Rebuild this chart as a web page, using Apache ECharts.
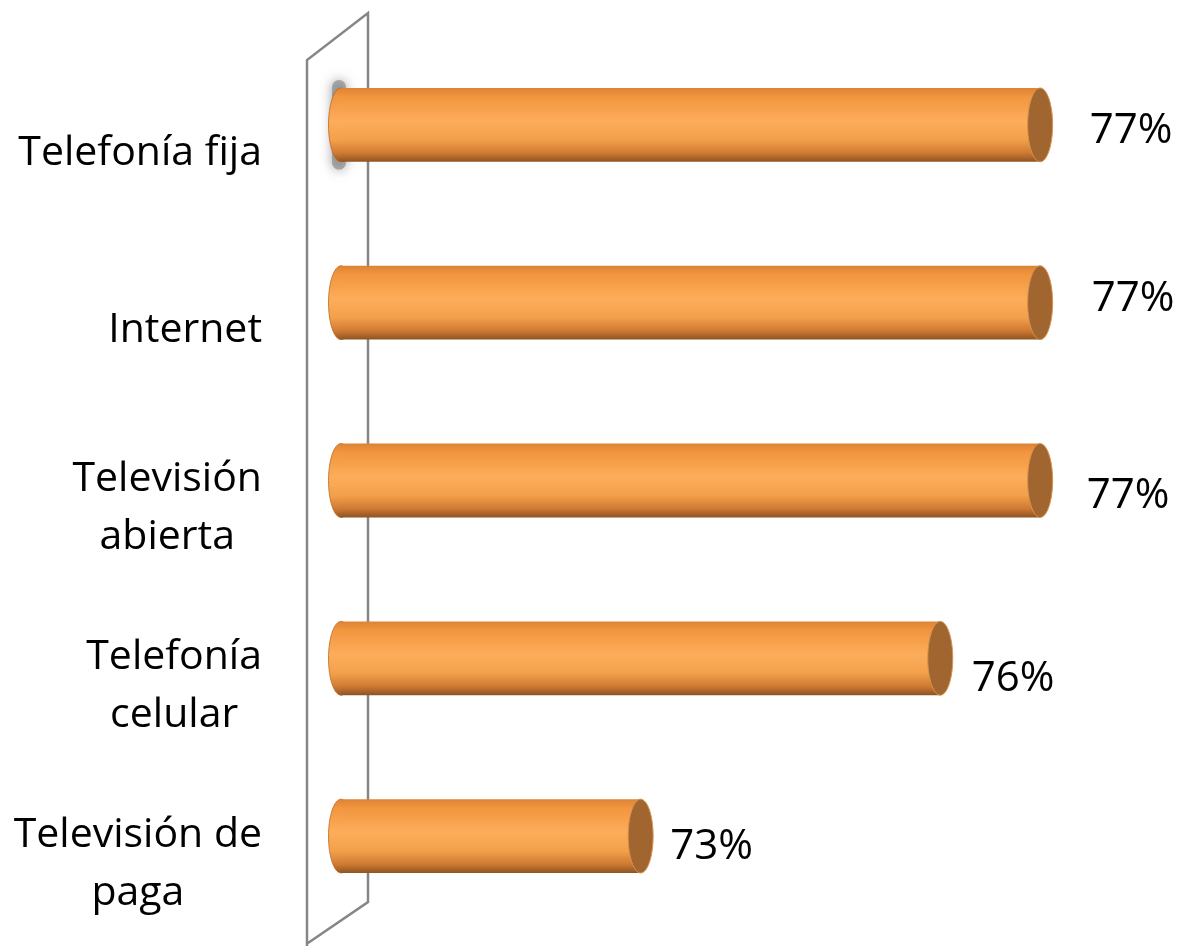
<!DOCTYPE html>
<html>
<head>
<meta charset="utf-8">
<script src="https://cdn.jsdelivr.net/npm/echarts@6/dist/echarts.min.js"></script>
<style>
  html, body { margin: 0; padding: 0; background: #fff; }
  #chart { width: 1178px; height: 946px; }
</style>
</head>
<body>
<div id="chart"></div>
<script>
// datos
var categories = ['Telefonía fija', 'Internet', 'Televisión\nabierta', 'Telefonía\ncelular', 'Televisión de\npaga'];
var values = [77, 77, 77, 76, 73];

var AXIS_MIN = 70;
var AXIS_MAX = 78;
var GRID_LEFT = 341;
var FONT = '"Open Sans", "Noto Sans", sans-serif';

// ajuste fino de cada etiqueta (dx, dy) como en el original
var labelNudge = [[37, 6], [39, -4], [34, 16], [19, 21], [17, 11]];

var bodyColor = {
    type: 'linear', x: 0, y: 0, x2: 0, y2: 1,
    colorStops: [
        { offset: 0, color: '#dc8334' },
        { offset: 0.12, color: '#f2953f' },
        { offset: 0.45, color: '#fdad5a' },
        { offset: 0.7, color: '#f3a04b' },
        { offset: 0.88, color: '#cf7a32' },
        { offset: 1, color: '#8e5322' }
    ]
};

function renderItem(params, api) {
    var idx = api.value(1);
    var end = api.coord([api.value(0), idx]);
    var start = api.coord([AXIS_MIN, idx]);
    var band = api.size([0, 1])[1];
    var h = band * 0.415;
    var rx = 12.5, ry = h / 2;
    var cy = end[1], top = cy - ry;
    var x0 = start[0], x1 = end[0];
    var nudge = labelNudge[params.dataIndex] || [30, 0];
    var children = [];

    if (params.dataIndex === 0) {
        // sombra gris del primer cilindro
        children.push({
            type: 'rect',
            shape: { x: x0 - 9, y: top - 8, width: 14, height: h + 16, r: 7 },
            style: { fill: 'rgba(120,120,120,0.55)', shadowBlur: 12, shadowColor: 'rgba(80,80,80,1)' }
        });
    }
    children.push({
        type: 'ellipse',
        shape: { cx: x0, cy: cy, rx: rx, ry: ry },
        style: { fill: bodyColor, stroke: 'rgba(190,105,35,0.8)', lineWidth: 1 }
    });
    children.push({
        type: 'rect',
        shape: { x: x0, y: top, width: x1 - x0, height: h },
        style: { fill: bodyColor }
    });
    children.push({
        type: 'ellipse',
        shape: { cx: x1, cy: cy, rx: rx, ry: ry },
        style: { fill: '#a1652f', stroke: '#d8944f', lineWidth: 1 }
    });
    children.push({
        type: 'text',
        x: x1 + rx + nudge[0],
        y: cy + nudge[1],
        style: {
            text: Math.round(api.value(0)) + '%',
            fill: '#000',
            font: '42px ' + FONT,
            align: 'left',
            verticalAlign: 'middle'
        }
    });
    return { type: 'group', children: children };
}

var myChart = echarts.init(document.getElementById('chart'));

var option = {
    backgroundColor: '#fff',
    animation: false,
    grid: {
        left: GRID_LEFT,
        right: 38,
        top: 36,
        bottom: 21,
        containLabel: false,
        outerBoundsMode: 'none'
    },
    xAxis: {
        type: 'value',
        min: AXIS_MIN,
        max: AXIS_MAX,
        show: false
    },
    yAxis: {
        type: 'category',
        inverse: true,
        data: categories,
        axisLine: { show: false },
        axisTick: { show: false },
        splitLine: { show: false },
        axisLabel: {
            margin: 79,
            align: 'right',
            verticalAlign: 'middle',
            padding: [56, 0, 0, 0],
            formatter: function(v) {
                return v.split('\n').map(function(l) {
                    return '{c|' + l + '}';
                }).join('\n');
            },
            rich: {
                c: {
                    fontSize: 41,
                    fontFamily: FONT,
                    color: '#000',
                    lineHeight: 58,
                    align: 'center'
                }
            }
        }
    },
    graphic: [{
        type: 'polyline',
        z: 0,
        silent: true,
        shape: {
            points: [
                [GRID_LEFT - 34, 946], [GRID_LEFT - 34, 60], [GRID_LEFT + 27, 13],
                [GRID_LEFT + 27, 902], [GRID_LEFT - 33, 943]
            ]
        },
        style: { stroke: '#868686', lineWidth: 2.5, fill: null }
    }],
    series: [{
        type: 'custom',
        z: 5,
        renderItem: renderItem,
        encode: { x: 0, y: 1 },
        data: values.map(function(v, i) {
            return [v, i];
        })
    }]
};

myChart.setOption(option);
</script>
</body>
</html>
